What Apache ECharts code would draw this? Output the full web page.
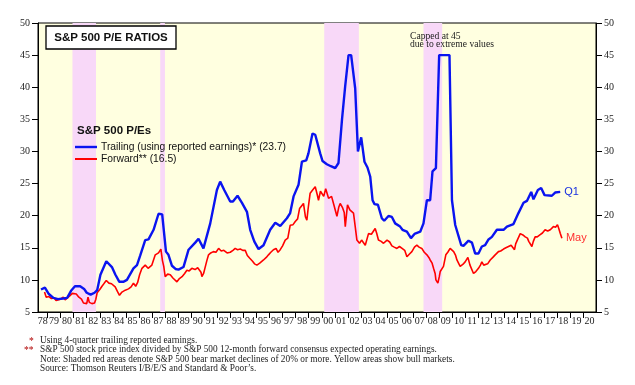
<!DOCTYPE html>
<html>
<head>
<meta charset="utf-8">
<script src="https://cdn.jsdelivr.net/npm/echarts@6/dist/echarts.min.js"></script>
<style>
html,body{margin:0;padding:0;background:#fff;}
#c{width:635px;height:385px;}
</style>
</head>
<body>
<div id="c"></div>
<script>
// ---- data (year as decimal, P/E value) ----
var trailing = [
[1978.5,8.5],[1978.8,8.8],[1979.1,7.8],[1979.45,7.2],[1979.8,7.0],[1980.2,7.1],[1980.5,7.2],[1980.8,8.3],
[1981.1,9.0],[1981.5,9.0],[1981.8,8.6],[1982.0,8.0],[1982.3,7.7],[1982.6,8.0],[1982.8,8.4],[1983.05,10.8],
[1983.5,12.9],[1983.93,12.0],[1984.2,10.8],[1984.5,9.7],[1984.8,9.7],[1985.08,10.0],[1985.58,11.8],[1985.85,12.3],
[1986.1,13.8],[1986.48,16.2],[1986.73,16.3],[1987.12,17.8],[1987.5,20.3],[1987.78,20.2],[1988.07,14.4],[1988.26,13.9],
[1988.53,12.2],[1988.8,11.7],[1989.03,11.6],[1989.41,12.0],[1989.8,14.7],[1990.31,15.8],[1990.56,16.4],[1990.94,14.9],
[1991.46,18.8],[1991.97,24.0],[1992.22,25.3],[1992.53,24.0],[1992.99,22.2],[1993.2,22.2],[1993.55,23.1],[1993.89,22.0],
[1994.27,20.6],[1994.52,17.8],[1994.83,16.0],[1995.16,14.8],[1995.54,15.4],[1996.05,17.8],[1996.44,18.9],[1996.82,18.4],
[1997.33,19.6],[1997.58,20.4],[1997.84,23.0],[1998.22,24.8],[1998.48,28.4],[1998.81,28.6],[1998.98,29.7],[1999.29,32.8],
[1999.5,32.6],[1999.88,29.7],[2000.06,28.5],[2000.39,28.0],[2000.7,27.7],[2001.03,27.4],[2001.28,28.2],[2001.55,35.0],
[2001.79,40.1],[2002.05,45.0],[2002.25,45.0],[2002.56,39.8],[2002.77,30.0],[2003.02,32.2],[2003.27,28.4],[2003.5,27.5],
[2003.71,26.1],[2003.89,22.4],[2004.04,21.8],[2004.3,21.7],[2004.6,19.6],[2004.78,19.2],[2005.11,19.95],[2005.37,19.8],
[2005.62,18.8],[2006.0,18.3],[2006.18,17.8],[2006.52,17.5],[2006.83,16.5],[2007.1,17.15],[2007.54,17.5],[2007.79,18.8],
[2008.05,22.4],[2008.3,22.4],[2008.48,26.9],[2008.74,27.4],[2008.99,45.0],[2009.78,45.0],[2009.97,22.4],[2010.22,18.55],
[2010.68,15.4],[2010.85,15.3],[2011.24,16.1],[2011.5,15.8],[2011.75,14.1],[2012.0,14.1],[2012.26,15.2],[2012.51,15.4],
[2012.77,16.3],[2013.03,16.7],[2013.41,17.8],[2013.92,17.8],[2014.18,18.3],[2014.68,18.7],[2015.06,20.4],[2015.45,22.0],
[2015.71,22.3],[2016.04,23.7],[2016.21,22.55],[2016.55,24.0],[2016.8,24.3],[2017.06,23.2],[2017.62,23.1],[2017.87,23.6],
[2018.26,23.7]
];
var forward = [
[1978.77,8.1],[1978.9,7.3],[1979.1,7.4],[1979.3,7.1],[1979.5,7.2],[1979.65,6.8],[1979.8,7.1],[1980.0,7.0],
[1980.2,7.3],[1980.35,6.9],[1980.5,7.2],[1980.7,7.5],[1980.9,7.9],[1981.05,7.6],[1981.2,7.8],[1981.4,7.3],
[1981.6,7.0],[1981.75,6.4],[1981.9,6.6],[1982.0,6.3],[1982.1,7.3],[1982.2,6.5],[1982.4,6.3],[1982.6,6.4],
[1982.7,7.0],[1982.8,8.0],[1983.0,8.5],[1983.17,9.0],[1983.35,9.5],[1983.5,9.9],[1983.7,9.5],[1983.9,9.4],
[1984.18,8.9],[1984.35,8.2],[1984.51,7.6],[1984.7,8.1],[1984.95,8.4],[1985.2,8.6],[1985.4,8.9],[1985.58,9.5],
[1985.75,9.0],[1985.9,9.6],[1986.05,10.8],[1986.23,11.8],[1986.48,12.3],[1986.7,11.8],[1986.99,12.3],[1987.25,13.9],
[1987.4,13.6],[1987.5,14.2],[1987.68,14.8],[1987.8,13.0],[1987.9,12.1],[1988.01,10.5],[1988.2,10.9],[1988.4,10.8],
[1988.6,10.3],[1988.75,10.6],[1988.91,9.7],[1989.1,10.2],[1989.3,10.5],[1989.5,11.0],[1989.67,11.5],[1989.85,11.4],
[1990.05,11.8],[1990.3,11.6],[1990.5,11.9],[1990.64,12.2],[1990.75,11.2],[1990.82,10.5],[1990.95,11.0],[1991.05,11.8],
[1991.2,13.0],[1991.33,13.9],[1991.5,14.2],[1991.7,14.4],[1991.9,14.3],[1992.1,14.9],[1992.3,14.5],[1992.5,14.6],
[1992.75,14.2],[1992.99,14.3],[1993.2,14.6],[1993.37,14.9],[1993.55,14.7],[1993.76,14.8],[1993.95,14.6],[1994.14,14.6],
[1994.3,13.8],[1994.47,13.4],[1994.7,12.9],[1994.85,12.5],[1995.03,12.3],[1995.25,12.6],[1995.54,13.1],[1995.75,13.5],
[1995.92,13.9],[1996.1,14.3],[1996.3,14.7],[1996.5,14.9],[1996.65,14.3],[1996.82,14.7],[1997.0,15.3],[1997.2,16.2],
[1997.4,16.5],[1997.58,18.5],[1997.8,18.6],[1997.97,19.1],[1998.15,19.5],[1998.3,21.1],[1998.45,20.8],[1998.6,21.9],
[1998.75,19.8],[1998.86,19.3],[1998.95,21.0],[1999.11,23.5],[1999.3,24.0],[1999.5,24.5],[1999.65,23.3],[1999.75,22.4],
[1999.9,23.8],[2000.0,23.9],[2000.15,23.0],[2000.3,24.2],[2000.52,22.7],[2000.75,23.0],[2000.95,21.5],[2001.16,19.9],
[2001.3,21.3],[2001.41,21.9],[2001.6,21.2],[2001.72,20.5],[2001.8,18.3],[2001.97,21.7],[2002.15,20.9],[2002.3,21.0],
[2002.43,20.4],[2002.55,18.5],[2002.69,16.2],[2002.89,15.7],[2003.05,16.2],[2003.2,15.9],[2003.33,15.4],[2003.58,17.2],
[2003.8,17.1],[2004.09,18.0],[2004.2,17.3],[2004.34,16.2],[2004.55,16.0],[2004.73,15.7],[2005.0,16.2],[2005.2,15.9],
[2005.37,15.3],[2005.55,15.1],[2005.75,14.9],[2005.95,15.2],[2006.15,14.9],[2006.35,14.6],[2006.52,13.6],[2006.7,14.0],
[2006.9,14.4],[2007.1,15.1],[2007.28,15.4],[2007.45,15.1],[2007.66,14.9],[2007.85,14.3],[2008.05,13.9],[2008.2,13.5],
[2008.3,13.1],[2008.45,12.6],[2008.56,11.8],[2008.68,11.0],[2008.74,10.0],[2008.89,9.5],[2009.0,10.5],[2009.07,11.3],
[2009.2,11.6],[2009.32,12.1],[2009.5,13.9],[2009.65,14.3],[2009.83,14.9],[2009.95,14.7],[2010.1,14.4],[2010.25,13.8],
[2010.35,13.1],[2010.5,12.5],[2010.6,12.1],[2010.8,12.4],[2010.98,12.8],[2011.19,13.5],[2011.35,12.3],[2011.5,12.0],
[2011.62,11.0],[2011.8,11.3],[2012.0,11.8],[2012.15,12.3],[2012.26,12.8],[2012.4,12.3],[2012.51,12.0],[2012.7,12.5],
[2012.9,13.1],[2013.1,13.5],[2013.28,13.9],[2013.53,14.4],[2013.7,14.5],[2013.92,14.8],[2014.1,15.0],[2014.3,15.2],
[2014.5,15.4],[2014.65,15.2],[2014.76,14.7],[2014.85,15.6],[2015.0,16.3],[2015.2,17.2],[2015.4,17.0],[2015.58,16.7],
[2015.75,16.5],[2015.85,16.0],[2016.09,15.2],[2016.2,16.0],[2016.34,16.7],[2016.5,16.7],[2016.7,17.0],[2016.9,17.3],
[2017.1,17.8],[2017.3,17.6],[2017.5,17.8],[2017.74,18.3],[2017.9,18.2],[2018.05,18.6],[2018.15,18.0],[2018.26,17.25],
[2018.39,16.5]
];
var bearMarkets = [[1980.91,1982.71],[1987.63,1987.99],[2000.19,2002.84],[2007.79,2009.22]];
var yearTicks = [];
for (var y = 1979; y <= 2020; y++) yearTicks.push(y);
var yearLabelPos = [1978.64];
for (var y2 = 1979; y2 <= 2020; y2++) yearLabelPos.push(y2 + 0.5);
var xMin = 1978.27, xMax = 2021;
var yMin = 5, yMax = 50, yStep = 5;
var trailingLabel = 'Q1', forwardLabel = 'May';

var chart = echarts.init(document.getElementById('c'), null, {renderer: 'canvas'});
var serif = 'Liberation Serif';
var sans = 'Liberation Sans';
var tickColor = '#222';

var yAxisCommon = {
  type: 'value', min: yMin, max: yMax, interval: yStep,
  axisLine: {show: true, lineStyle: {color: '#000', width: 1}},
  axisTick: {show: true, length: 6, lineStyle: {color: '#000'}},
  axisLabel: {fontFamily: serif, fontSize: 10, color: tickColor, margin: 8},
  splitLine: {show: false}
};

var option = {
  animation: false,
  backgroundColor: '#fff',
  grid: {left: 38, right: 39, top: 23, bottom: 73, show: true,
         backgroundColor: '#FFFFE0', borderColor: '#000', borderWidth: 1},
  xAxis: {
    type: 'value', min: xMin, max: xMax,
    axisLine: {show: true, lineStyle: {color: '#000', width: 1}},
    axisTick: {show: true, length: 6, customValues: yearTicks, lineStyle: {color: '#000'}},
    axisLabel: {
      customValues: yearLabelPos, fontFamily: serif, fontSize: 10, color: tickColor, margin: 4,
      formatter: function (v) { var n = Math.floor(v) % 100; return (n < 10 ? '0' : '') + n; }
    },
    splitLine: {show: false}
  },
  yAxis: [
    Object.assign({position: 'left'}, yAxisCommon),
    Object.assign({position: 'right'}, yAxisCommon)
  ],
  series: [
    {
      type: 'line', z: 1, data: [[xMin, yMin]], showSymbol: false, silent: true,
      lineStyle: {opacity: 0},
      markArea: {
        silent: true,
        itemStyle: {color: '#F8D8F8'},
        data: bearMarkets.map(function (b) { return [{xAxis: b[0], yAxis: yMin}, {xAxis: b[1], yAxis: yMax}]; })
      }
    },
    {
      name: 'Forward', type: 'line', z: 3, data: forward, showSymbol: false,
      lineStyle: {color: '#FF0000', width: 1.6}, itemStyle: {color: '#FF0000'},
      endLabel: {show: true, formatter: forwardLabel, color: '#FF3030', fontFamily: sans, fontSize: 11, distance: 4}
    },
    {
      name: 'Trailing', type: 'line', z: 4, data: trailing, showSymbol: false,
      lineStyle: {color: '#0A14F0', width: 2.4}, itemStyle: {color: '#0A14F0'},
      endLabel: {show: true, formatter: trailingLabel, color: '#1830E0', fontFamily: sans, fontSize: 11, distance: 4}
    }
  ],
  graphic: [
    {type: 'rect', z: 100, shape: {x: 46, y: 26, width: 130, height: 23},
     style: {fill: '#fff', stroke: '#000', lineWidth: 1.3}},
    {type: 'text', z: 101, x: 111, y: 38,
     style: {text: 'S&P 500 P/E RATIOS', fontFamily: sans, fontWeight: 'bold', fontSize: 11.5, fill: '#111', align: 'center', verticalAlign: 'middle'}},
    {type: 'text', z: 101, x: 77, y: 131,
     style: {text: 'S&P 500 P/Es', fontFamily: sans, fontWeight: 'bold', fontSize: 11.5, fill: '#111', verticalAlign: 'middle'}},
    {type: 'line', z: 101, shape: {x1: 75, y1: 147, x2: 97, y2: 147}, style: {stroke: '#0A14F0', lineWidth: 2.4}},
    {type: 'text', z: 101, x: 101, y: 147,
     style: {text: 'Trailing (using reported earnings)* (23.7)', fontFamily: sans, fontSize: 10.3, fill: '#111', verticalAlign: 'middle'}},
    {type: 'line', z: 101, shape: {x1: 75, y1: 159, x2: 97, y2: 159}, style: {stroke: '#FF0000', lineWidth: 2}},
    {type: 'text', z: 101, x: 101, y: 159,
     style: {text: 'Forward** (16.5)', fontFamily: sans, fontSize: 10.3, fill: '#111', verticalAlign: 'middle'}},
    {type: 'text', z: 101, x: 410, y: 36,
     style: {text: 'Capped at 45', fontFamily: serif, fontSize: 9.6, fill: '#222', verticalAlign: 'middle'}},
    {type: 'text', z: 101, x: 410, y: 44.5,
     style: {text: 'due to extreme values', fontFamily: serif, fontSize: 9.6, fill: '#222', verticalAlign: 'middle'}},
    {type: 'text', z: 101, x: 29, y: 341, style: {text: '*', fontFamily: serif, fontSize: 9.5, fill: '#B00000', verticalAlign: 'middle'}},
    {type: 'text', z: 101, x: 40, y: 341, style: {text: 'Using 4-quarter trailing reported earnings.', fontFamily: serif, fontSize: 9.3, fill: '#222', verticalAlign: 'middle'}},
    {type: 'text', z: 101, x: 24, y: 350, style: {text: '**', fontFamily: serif, fontSize: 9.5, fill: '#B00000', verticalAlign: 'middle'}},
    {type: 'text', z: 101, x: 40, y: 350, style: {text: 'S&P 500 stock price index divided by S&P 500 12-month forward consensus expected operating earnings.', fontFamily: serif, fontSize: 9.3, fill: '#222', verticalAlign: 'middle'}},
    {type: 'text', z: 101, x: 40, y: 359.3, style: {text: 'Note: Shaded red areas denote S&P 500 bear market declines of 20% or more. Yellow areas show bull markets.', fontFamily: serif, fontSize: 9.3, fill: '#222', verticalAlign: 'middle'}},
    {type: 'text', z: 101, x: 40, y: 368.6, style: {text: 'Source: Thomson Reuters I/B/E/S and Standard & Poor\u2019s.', fontFamily: serif, fontSize: 9.3, fill: '#222', verticalAlign: 'middle'}}
  ]
};
chart.setOption(option);
</script>
</body>
</html>
